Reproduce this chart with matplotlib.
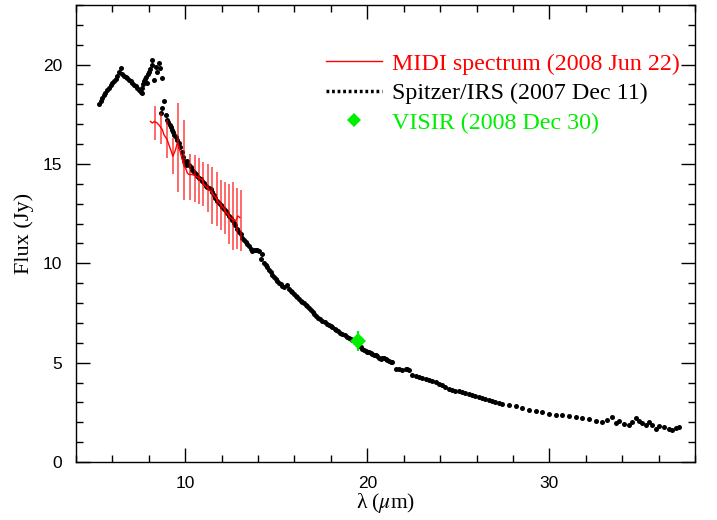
import matplotlib
matplotlib.use('Agg')
import matplotlib.pyplot as plt
from matplotlib.lines import Line2D
from matplotlib.ticker import MultipleLocator

plt.rcParams['mathtext.fontset'] = 'stix'

# Spitzer/IRS spectrum (2007 Dec 11)
irs_wave = [5.29, 5.37, 5.44, 5.53, 5.62, 5.72, 5.81, 5.90, 5.99, 6.08, 6.17, 6.27, 6.36, 6.45,
            6.54, 6.63, 6.72, 6.81, 6.91, 7.00, 7.09, 7.18, 7.27, 7.36, 7.46, 7.55, 7.60, 7.64,
            7.70, 7.73, 7.78, 7.82, 7.91, 7.95, 8.00, 8.08, 8.15, 8.19, 8.28, 8.37, 8.46, 8.56,
            8.62, 8.74,
            8.68, 8.74, 8.83, 8.92, 9.01, 9.08, 9.16, 9.22, 9.29, 9.35, 9.41, 9.48, 9.56, 9.65,
            9.72, 9.80, 9.88, 9.95, 10.02, 10.11, 10.20, 10.29, 10.38, 10.47, 10.57, 10.66, 10.75,
            10.84, 10.94, 11.03, 11.12, 11.21, 11.30, 11.39, 11.48, 11.57, 11.66, 11.76, 11.85,
            11.94, 12.03, 12.13, 12.22, 12.31, 12.40, 12.49, 12.58, 12.67, 12.76, 12.86, 12.95,
            13.04, 13.13, 13.22, 13.32, 13.41, 13.50, 13.59, 13.68, 13.77, 13.86, 13.95, 14.05,
            14.14, 14.23, 14.32, 14.42, 14.51, 14.60, 14.69, 14.78, 14.87, 14.96, 15.05, 15.15,
            15.24, 15.33, 15.45, 15.57, 15.70, 15.79, 15.88, 15.97, 16.06, 16.15, 16.24, 16.34,
            16.43, 16.52, 16.61, 16.70, 16.80, 16.90, 17.00, 17.10, 17.20, 17.30, 17.42, 17.53,
            17.65, 17.78, 17.90, 18.00, 18.08, 18.20, 18.30, 18.40, 18.52, 18.63, 18.75, 18.86,
            18.97, 19.08, 19.18, 19.30, 19.42, 19.54, 19.63, 19.73, 19.82, 19.91, 20.00, 20.09,
            20.18, 20.27, 20.36, 20.46, 20.55, 20.64, 20.73, 20.82, 20.92, 21.01, 21.10, 21.20,
            21.28, 21.37, 21.56, 21.74, 21.92, 22.10, 22.20, 22.29, 22.47, 22.65, 22.84, 23.02,
            23.20, 23.38, 23.56, 23.75, 23.93, 24.11, 24.29, 24.48, 24.66, 24.84, 25.02, 25.21,
            25.39, 25.57, 25.75, 25.93, 26.12, 26.30, 26.48, 26.66, 26.85, 27.03, 27.21, 27.42,
            27.79, 28.15, 28.52, 28.88, 29.25, 29.62, 29.98, 30.35, 30.71, 31.08, 31.45, 31.81,
            32.18, 32.55, 32.91, 33.19, 33.42, 33.65, 33.83, 34.10, 34.38, 34.56, 34.74, 34.93,
            35.11, 35.29, 35.48, 35.66, 35.84, 36.03, 36.30, 36.58, 36.76, 36.94, 37.13]
irs_flux = [18.01, 18.15, 18.31, 18.45, 18.56, 18.70, 18.81, 18.95, 19.06, 19.15, 19.28, 19.45, 19.65, 19.81,
            19.55, 19.45, 19.40, 19.32, 19.23, 19.15, 19.06, 18.98, 18.90, 18.80, 18.73, 18.62, 18.56, 18.81,
            19.00, 19.15, 19.30, 19.40, 19.06, 19.55, 19.65, 19.80, 19.98, 20.24, 19.23, 19.90, 19.65, 20.07,
            19.85, 19.31,
            17.56, 17.81, 18.15, 17.48, 17.23, 17.10, 16.98, 16.85, 16.73, 16.60, 16.47, 16.35, 16.22, 16.06,
            15.85, 15.60, 15.35, 15.15, 14.97, 15.14, 14.97, 14.85, 14.72, 14.60, 14.47, 14.39, 14.30,
            14.22, 14.12, 14.05, 13.88, 13.82, 13.78, 13.72, 13.60, 13.45, 13.30, 13.13, 13.03,
            12.93, 12.83, 12.72, 12.62, 12.51, 12.40, 12.30, 12.18, 12.05, 11.92, 11.75, 11.60,
            11.45, 11.29, 11.18, 11.07, 10.96, 10.85, 10.74, 10.63, 10.66, 10.68, 10.65, 10.63,
            10.21, 10.46, 10.04, 9.92, 9.79, 9.66, 9.54, 9.42, 9.29, 9.20, 9.12, 9.03,
            8.95, 8.87, 8.82, 8.90, 8.70, 8.62, 8.54, 8.45, 8.37, 8.29, 8.21, 8.12,
            8.04, 7.98, 7.92, 7.84, 7.74, 7.64, 7.55, 7.45, 7.36, 7.27, 7.18, 7.12,
            7.04, 6.96, 6.89, 6.83, 6.78, 6.70, 6.63, 6.57, 6.50, 6.45, 6.37, 6.30,
            6.23, 6.17, 6.12, 6.02, 5.94, 5.86, 5.78, 5.70, 5.64, 5.60, 5.56, 5.53,
            5.49, 5.45, 5.40, 5.36, 5.31, 5.25, 5.20, 5.23, 5.25, 5.20, 5.11, 5.08,
            5.05, 5.03, 4.70, 4.67, 4.65, 4.68, 4.70, 4.61, 4.36, 4.33, 4.29, 4.25,
            4.20, 4.13, 4.07, 4.02, 3.94, 3.86, 3.78, 3.69, 3.64, 3.59, 3.55, 3.50,
            3.45, 3.40, 3.35, 3.31, 3.27, 3.22, 3.16, 3.11, 3.06, 3.02, 2.98, 2.94,
            2.86, 2.81, 2.74, 2.64, 2.57, 2.52, 2.44, 2.36, 2.39, 2.31, 2.24, 2.19,
            2.14, 2.07, 1.99, 2.11, 2.24, 1.97, 2.07, 1.90, 1.85, 2.02, 2.19, 2.07,
            1.94, 1.85, 2.02, 1.85, 1.64, 1.80, 1.77, 1.64, 1.60, 1.69, 1.74]

# MIDI spectrum (2008 Jun 22)
midi_wave = [8.09, 8.19, 8.31, 8.46, 8.61, 8.74, 8.83, 9.01, 9.10, 9.23, 9.32, 9.47, 9.56, 9.65,
             9.74, 9.84, 9.93, 10.02, 10.11, 10.20, 10.38, 10.57, 10.75, 10.93, 11.03, 11.21,
             11.48, 11.67, 11.85, 12.03, 12.21, 12.40, 12.58, 12.76, 12.90, 13.00]
midi_flux = [17.14, 17.06, 17.14, 17.06, 16.90, 16.73, 16.47, 16.22, 15.97, 15.64, 15.39, 15.72, 16.06, 15.89,
             15.55, 15.22, 14.89, 14.80, 14.55, 14.47, 14.47, 14.39, 14.30, 14.22, 13.97, 13.80,
             13.55, 13.30, 13.05, 12.88, 12.63, 12.38, 12.21, 12.13, 12.38, 12.30]
# MIDI error bars (bottom / top)
bar_wave = [8.34, 8.68, 9.01, 9.34, 9.63, 9.95, 10.24, 10.51, 10.75, 11.00, 11.25, 11.48, 11.72,
            11.96, 12.18, 12.40, 12.62, 12.84, 13.04]
bar_lo = [16.20, 16.00, 15.30, 14.50, 13.60, 13.20, 13.20, 13.10, 13.00, 12.90, 12.60, 12.00, 11.90,
          11.70, 11.46, 10.96, 10.66, 10.70, 10.60]
bar_hi = [17.94, 17.56, 17.20, 16.30, 18.06, 17.20, 15.50, 15.47, 15.30, 15.10, 15.00, 14.84, 14.60,
          14.20, 14.10, 14.00, 14.10, 13.80, 13.70]

# VISIR photometry (2008 Dec 30)
visir_wave = [19.5]
visir_flux = [6.08]
visir_err = [0.5]

serif = ['Liberation Serif', 'DejaVu Serif']
sans = ['Liberation Sans', 'DejaVu Sans']

fig = plt.figure(figsize=(7.17, 5.2), dpi=100)
ax = fig.add_axes([76/717, 58/520, 619/717, 457/520])

ax.plot(irs_wave, irs_flux, 'o', color='black', ms=3.6, mew=0, zorder=2)
ax.vlines(bar_wave, bar_lo, bar_hi, color='red', lw=1.1, alpha=0.75, zorder=3)
ax.plot(midi_wave, midi_flux, '-', color='red', lw=1.0, zorder=4)
ax.errorbar(visir_wave, visir_flux, yerr=visir_err, fmt='D', color='#00ee00', ms=8,
            mew=0, elinewidth=1.5, capsize=0, zorder=5)

ax.set_xlim(4, 38)
ax.set_ylim(0, 23)
ax.xaxis.set_major_locator(MultipleLocator(10))
ax.xaxis.set_minor_locator(MultipleLocator(2))
ax.yaxis.set_major_locator(MultipleLocator(5))
ax.yaxis.set_minor_locator(MultipleLocator(1))
ax.tick_params(which='both', direction='in', top=True, right=True, width=1)
ax.tick_params(which='major', length=10, pad=10, labelsize=12.5)
ax.tick_params(which='minor', length=5)
for lab in ax.get_xticklabels() + ax.get_yticklabels():
    lab.set_family(sans)
for sp in ax.spines.values():
    sp.set_linewidth(1)

ax.set_xlabel('λ ($\\mu$m)', family=serif, fontsize=15.5)
ax.set_ylabel('Flux (Jy)', family=serif, fontsize=16)
ax.xaxis.set_label_coords(0.5, -0.064)
ax.yaxis.set_label_coords(-0.068, 0.5)

handles = [Line2D([], [], color='red', lw=1.0),
           Line2D([], [], color='black', lw=2.5, ls=(0, (0.8, 0.8))),
           Line2D([], [], color='#00ee00', marker='D', ms=7, mew=0, ls='none')]
labels = ['MIDI spectrum (2008 Jun 22)', 'Spitzer/IRS (2007 Dec 11)', 'VISIR (2008 Dec 30)']
leg = ax.legend(handles, labels, loc='upper right', bbox_to_anchor=(0.976, 0.895),
                frameon=False, borderpad=0, borderaxespad=0, handlelength=2.33,
                handletextpad=0.42, labelspacing=0.32, prop={'family': serif, 'size': 17.3})
for txt, col in zip(leg.get_texts(), ['red', 'black', '#00ee00']):
    txt.set_color(col)
leg._legend_box.align = 'left'

fig.savefig('out.png', dpi=100)
